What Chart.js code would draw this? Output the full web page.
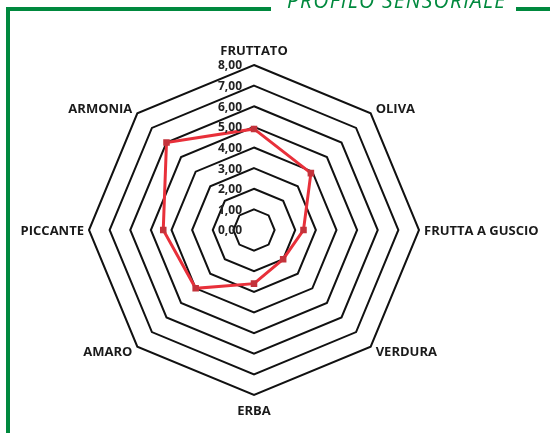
<!DOCTYPE html>
<html>
<head>
<meta charset="utf-8">
<script src="https://cdn.jsdelivr.net/npm/chart.js@4"></script>
<style>
  body { margin: 0; background: #fff; }
  #wrap { position: relative; width: 550px; height: 433px; overflow: hidden; background: #fff; }
  #radar { position: absolute; left: 0; top: 0; }
  .frame { position: absolute; background: #00893e; }
  #title {
    position: absolute; left: 287px; top: -13px;
    font-family: "Open Sans", sans-serif; font-style: italic; font-weight: 400;
    font-size: 21px; letter-spacing: 1.2px; color: #00893e; white-space: nowrap; line-height: 26px;
  }
</style>
</head>
<body>
<div id="wrap">
  <canvas id="radar" width="550" height="433"></canvas>
  <div class="frame" style="left:6px; top:7px; width:265px; height:4px;"></div>
  <div class="frame" style="left:516px; top:7px; width:34px; height:4px;"></div>
  <div class="frame" style="left:6px; top:7px; width:4px; height:426px;"></div>
  <div id="title">PROFILO SENSORIALE</div>
</div>
<script>
/* ---------- DATA ---------- */
const categories = ["FRUTTATO", "OLIVA", "FRUTTA A GUSCIO", "VERDURA", "ERBA", "AMARO", "PICCANTE", "ARMONIA"];
const profilo = [4.9, 3.9, 2.4, 2.0, 2.6, 4.0, 4.4, 6.0];
const tickValues = [0, 1, 2, 3, 4, 5, 6, 7, 8];

const labelFont = 'bold 13px "Open Sans", sans-serif';
const tickFont = 'bold 12px "Open Sans", sans-serif';

const fmt = v => v.toFixed(2).replace(".", ",");

/* ---------- LABELS PLUGIN (ticks + point labels) ---------- */
const radarLabels = {
    id: "radarLabels",
    afterDraw(chart) {
        const scale = chart.scales.r;
        const ctx = chart.ctx;
        ctx.save();

        // tick labels, left of the top axis
        ctx.font = tickFont;
        ctx.fillStyle = "#222";
        ctx.textAlign = "right";
        ctx.textBaseline = "middle";
        tickValues.forEach(v => {
            const y = scale.yCenter - scale.getDistanceFromCenterForValue(v);
            ctx.fillText(fmt(v), scale.xCenter - 12, y + 1);
        });

        // category labels around the octagon
        ctx.font = labelFont;
        ctx.fillStyle = "#1a1a1a";
        categories.forEach((name, i) => {
            const p = scale.getPointPosition(i, scale.drawingArea);
            const cx = Math.cos(p.angle), sy = Math.sin(p.angle);
            let x = p.x, y = p.y;
            if (cx > 0.1) { ctx.textAlign = "left"; x += 5; }
            else if (cx < -0.1) { ctx.textAlign = "right"; x -= 5; }
            else { ctx.textAlign = "center"; }
            if (Math.abs(cx) <= 0.1) y += sy * 15;
            else if (Math.abs(sy) > 0.1) y += Math.sign(sy) * 5;
            ctx.textBaseline = "middle";
            ctx.fillText(name, x, y + 1);
        });
        ctx.restore();
    }
};

/* ---------- CHART ---------- */
new Chart(document.getElementById("radar"), {
    type: "radar",
    data: {
        labels: categories,
        datasets: [{
            label: "Profilo sensoriale",
            data: profilo,
            borderColor: "#e8303a",
            borderWidth: 3,
            backgroundColor: "transparent",
            pointBackgroundColor: "#c4333b",
            pointBorderColor: "#c4333b",
            pointRadius: 2.5,
            pointStyle: "rect",
            fill: false
        }]
    },
    options: {
        responsive: false,
        animation: false,
        layout: { padding: { left: 89, right: 131, top: 65, bottom: 38 } },
        plugins: {
            legend: { display: false },
            tooltip: { enabled: false }
        },
        scales: {
            r: {
                min: 0,
                max: 8,
                ticks: { stepSize: 1, display: false },
                grid: { color: "#111", lineWidth: 2, circular: false },
                angleLines: { display: false },
                pointLabels: { display: false }
            }
        }
    },
    plugins: [radarLabels]
});
</script>
</body>
</html>
